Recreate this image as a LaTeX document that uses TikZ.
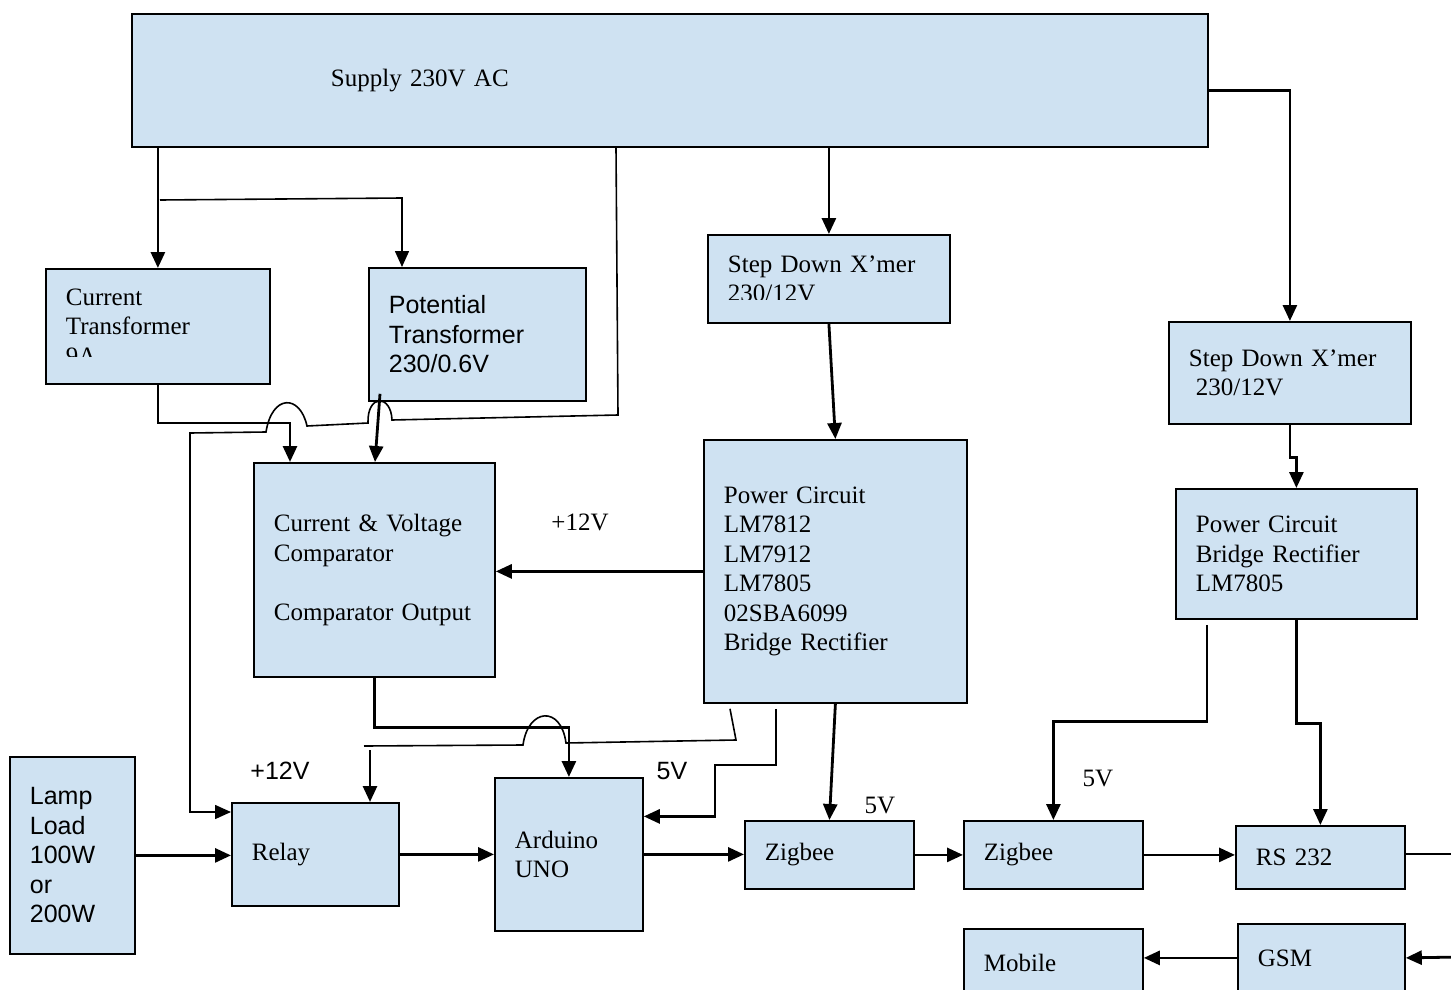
\documentclass[tikz,border=0pt]{standalone}
\usepackage{fontspec}
\setmainfont{Liberation Serif}
\setsansfont{Liberation Sans}
\usetikzlibrary{arrows.meta,calc}
\definecolor{boxblue}{RGB}{207,226,242}

\begin{document}
\begin{tikzpicture}[x=0.5pt,y=-0.5pt,>={Triangle[length=8pt,width=7pt]},
	blk/.style={draw,fill=boxblue,line width=0.9pt,anchor=north west,align=left,
		inner xsep=10pt,inner ysep=0pt,font=\fontsize{12.5}{14.75}\selectfont},
	lbl/.style={font=\fontsize{12.5}{14.75}\selectfont},
	sf/.style={font=\sffamily\fontsize{12.5}{14.75}\selectfont},
	wire/.style={line width=0.8pt},
	feed/.style={line width=1.4pt,->}]
	\useasboundingbox (0,0) rectangle (1451,990);
	\clip (0,0) rectangle (1451,990);
	% blocks
	\node[blk,minimum width=538pt,minimum height=66.5pt,text width=518pt] (sup) at (131,13) {\hspace*{89.5pt}Supply 230V AC};
	\node[blk,minimum width=112pt,minimum height=57.5pt,text width=92pt] (ct) at (45,268) {Current\\Transformer\\9A};
	\node[blk,sf,minimum width=108.5pt,minimum height=66.5pt,text width=88.5pt] (pt) at (368,267) {Potential\\Transformer\\230/0.6V};
	\node[blk,minimum width=121pt,minimum height=44pt,text width=101pt] (sd1) at (707,234) {Step Down X’mer\\230/12V};
	\node[blk,minimum width=121pt,minimum height=51pt,text width=101pt] (sd2) at (1168,321) {Step Down X’mer\\\hspace*{3.5pt}230/12V};
	\node[blk,minimum width=120.5pt,minimum height=107pt,text width=100.5pt] (cmp) at (253,462) {Current \& Voltage\\Comparator\\[14.75pt]Comparator Output};
	\node[blk,minimum width=131.5pt,minimum height=131.5pt,text width=111.5pt] (pc1) at (703,439) {Power Circuit\\LM7812\\LM7912\\LM7805\\02SBA6099\\Bridge Rectifier};
	\node[blk,minimum width=120.5pt,minimum height=65pt,text width=100.5pt] (pc2) at (1175,488) {Power Circuit\\Bridge Rectifier\\LM7805};
	\node[blk,sf,minimum width=62.5pt,minimum height=98.5pt,text width=42.5pt] (lamp) at (9,756) {Lamp\\Load\\100W\\or\\200W};
	\node[blk,minimum width=83.5pt,minimum height=51.5pt,text width=63.5pt] (relay) at (231,802) {Relay};
	\node[blk,minimum width=74pt,minimum height=76.5pt,text width=54pt] (ard) at (494,777) {Arduino\\UNO};
	\node[blk,minimum width=84.5pt,minimum height=34pt,text width=64.5pt] (zb1) at (744,820) {Zigbee};
	\node[blk,minimum width=89.5pt,minimum height=34pt,text width=69.5pt] (zb2) at (963,820) {Zigbee};
	\node[blk,minimum width=84.5pt,minimum height=31.5pt,text width=64.5pt] (rs) at (1235,825) {RS 232};
	\node[blk,minimum width=89.5pt,minimum height=34pt,text width=69.5pt] (mob) at (963,928) {Mobile};
	\node[blk,minimum width=83.5pt,minimum height=34pt,text width=63.5pt] (gsm) at (1237,923) {GSM};
	% cut-off last lines
	\fill[boxblue] (47,357) rectangle (267,381.5);
	\fill[boxblue] (709,300) rectangle (947,320.5);
	% voltage labels
	\node[lbl] (v12c) at (580,522) {+12V};
	\node[sf] (v12r) at (280,771) {+12V};
	\node[sf] (v5a) at (672,771) {5V};
	\node[lbl] (v5z) at (880,805) {5V};
	\node[lbl] (v5b) at (1098,778) {5V};
	% supply
	\draw[feed] (sup.south -| ct.north) -- (ct.north);
	\coordinate (jct) at (160,200);
	\draw[wire,->] (jct) -- (402,198) -- ([xshift=17pt]pt.north west);
	\draw[feed] (sup.south -| sd1.north) -- (sd1.north);
	\draw[feed] ([yshift=-5pt]sup.east) -| (sd2.north);
	\draw[feed] (sd1.south) -- (pc1.north);
	\draw[feed] (sd2.south) -- ++(0,33) -| (pc2.north);
	% comparator
	\draw[feed] (ct.south) -- (ct.south |- 0,423) -| ([xshift=18.5pt]cmp.north west);
	\draw[feed] ([xshift=6pt,yshift=4pt]pt.south west) -- ([xshift=61pt]cmp.north west);
	\draw[wire,->] (sup.south -| 616,0) -- (618,415) -- (392,420)
		.. controls (391,394) and (367,394) .. (368,423) -- (307,426)
		.. controls (300,394) and (272,394) .. (266,432) -- (190,433) -- (190,812)
		-- ([yshift=-5pt]relay.north west);
	\draw[feed] (pc1.west) -- (pc1.west -| cmp.east);
	\draw[feed] (cmp.south) -- ++(0,50) -| (ard.north);
	% relay and arduino supply
	\coordinate (r12) at (370,750);
	\draw[wire] ([xshift=13.5pt,yshift=-2.5pt]pc1.south west) -- (736,740) -- (566,743)
		.. controls (561,705) and (528,708) .. (523,745) -- (364,746);
	\draw[feed] (r12) -- (r12 |- relay.north);
	\draw[feed] ([xshift=36.5pt,yshift=-2.5pt]pc1.south west) |- (715,765) |- ([yshift=19pt]ard.east);
	\draw[feed] (pc1.south) -- (zb1.north);
	\draw[feed] ([xshift=16pt,yshift=-2.5pt]pc2.south west) -- ++(0,97) -| (zb2.north);
	\draw[feed] (pc2.south) -- ++(0,104) -| (rs.north);
	% signal chain
	\coordinate (rsout) at (1460,854);
	\coordinate (gsmin) at (1460,957);
	\draw[feed] (lamp.east) -- (lamp.east -| relay.west);
	\draw[feed] (relay.east) -- (relay.east -| ard.west);
	\draw[feed] (ard.east) -- (ard.east -| zb1.west);
	\draw[feed] (zb1.east) -- (zb1.east -| zb2.west);
	\draw[feed] (zb2.east) -- (zb2.east -| rs.west);
	\draw[feed,-] (rsout -| rs.east) -- (rsout);
	\draw[feed] (gsmin) -- (gsm.east);
	\draw[feed] (gsm.west) -- (gsm.west -| mob.east);
\end{tikzpicture}
\end{document}
